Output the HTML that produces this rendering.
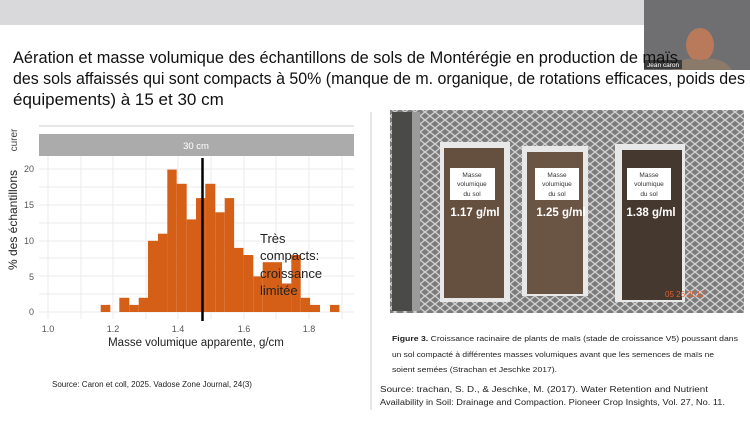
<!DOCTYPE html>
<html><head><meta charset="utf-8"><style>
html,body{margin:0;padding:0;background:#fff;}
svg{display:block;font-family:"Liberation Sans",sans-serif;}
</style></head><body>
<svg width="750" height="421" viewBox="0 0 750 421">
<defs>
<pattern id="mesh" width="10" height="8" patternUnits="userSpaceOnUse">
<rect width="10" height="8" fill="#7c7c7c"/>
<path d="M0 4 L5 0 L10 4 L5 8 Z" fill="none" stroke="#d0d0d0" stroke-width="1.4"/>
</pattern>
</defs>
<rect x="0" y="0" width="750" height="421" fill="#fff"/>
<rect x="0" y="0" width="750" height="25" fill="#d9d9db"/>
<!-- webcam -->
<rect x="644" y="0" width="106" height="70" fill="#6f6e70"/>
<ellipse cx="700" cy="45" rx="14" ry="17" fill="#b87a5a"/>
<path d="M672 70 Q680 55 700 60 Q722 55 732 70 Z" fill="#8a7a6a"/>
<rect x="644" y="60" width="38" height="9" fill="#3a3a3a"/>
<text x="647" y="67" font-size="6.5" fill="#fff">Jean caron</text>
<!-- title -->
<g font-size="17" fill="#111">
<text x="13" y="63" textLength="665" lengthAdjust="spacingAndGlyphs">Aération et masse volumique des échantillons de sols de Montérégie en production de maïs</text>
<text x="13" y="84" textLength="732" lengthAdjust="spacingAndGlyphs">des sols affaissés qui sont compacts à 50% (manque de m. organique, de rotations efficaces, poids des</text>
<text x="13" y="105">équipements) à 15 et 30 cm</text>
</g>
<!-- chart -->
<line x1="39" y1="126" x2="354" y2="126" stroke="#ccc"/>
<rect x="39" y="134" width="315" height="22" fill="#ababab"/>
<text x="196" y="149" font-size="9.5" fill="#fff" text-anchor="middle">30 cm</text>
<rect x="39" y="156" width="315" height="163" fill="#fff"/>
<g stroke="#ebebeb" stroke-width="1">
<line x1="48" y1="156" x2="48" y2="319"/><line x1="113" y1="156" x2="113" y2="319"/><line x1="178" y1="156" x2="178" y2="319"/><line x1="244" y1="156" x2="244" y2="319"/><line x1="309" y1="156" x2="309" y2="319"/>
<line x1="81" y1="156" x2="81" y2="319"/><line x1="146" y1="156" x2="146" y2="319"/><line x1="211" y1="156" x2="211" y2="319"/><line x1="276" y1="156" x2="276" y2="319"/><line x1="342" y1="156" x2="342" y2="319"/>
<line x1="39" y1="312" x2="354" y2="312"/><line x1="39" y1="276" x2="354" y2="276"/><line x1="39" y1="241" x2="354" y2="241"/><line x1="39" y1="205" x2="354" y2="205"/><line x1="39" y1="169" x2="354" y2="169"/>
<line x1="39" y1="294" x2="354" y2="294"/><line x1="39" y1="258" x2="354" y2="258"/><line x1="39" y1="223" x2="354" y2="223"/><line x1="39" y1="187" x2="354" y2="187"/>
</g>
<g fill="#d65f18">
<rect x="100.7" y="304.9" width="9.6" height="7.1"/>
<rect x="119.3" y="297.8" width="10" height="14.2"/>
<rect x="129.3" y="304.9" width="9.4" height="7.1"/>
<rect x="138.7" y="297.8" width="9.4" height="14.2"/>
<rect x="148" y="240.8" width="10" height="71.2"/>
<rect x="158" y="233.7" width="9.4" height="78.3"/>
<rect x="167.3" y="169.6" width="9.4" height="142.4"/>
<rect x="176.7" y="183.8" width="10" height="128.2"/>
<rect x="186.7" y="219.4" width="9.4" height="92.6"/>
<rect x="196" y="198.1" width="9.4" height="113.9"/>
<rect x="205.3" y="183.8" width="10" height="128.2"/>
<rect x="215.3" y="212.3" width="9.4" height="99.7"/>
<rect x="224.7" y="198.1" width="9.4" height="113.9"/>
<rect x="234" y="247.9" width="9.4" height="64.1"/>
<rect x="243.3" y="255" width="10" height="57"/>
<rect x="253.3" y="276.4" width="9.4" height="35.6"/>
<rect x="262.7" y="262.2" width="9.4" height="49.8"/>
<rect x="272" y="262.2" width="10" height="49.8"/>
<rect x="282" y="283.5" width="9.4" height="28.5"/>
<rect x="291.3" y="255" width="9.4" height="57"/>
<rect x="300.7" y="297.8" width="9.4" height="14.2"/>
<rect x="310" y="304.9" width="10" height="7.1"/>
<rect x="330" y="304.9" width="9.4" height="7.1"/>
</g>
<line x1="202.5" y1="158" x2="202.5" y2="321" stroke="#000" stroke-width="2.5"/>
<g font-size="9" fill="#555" text-anchor="end">
<text x="34" y="315">0</text><text x="34" y="280">5</text><text x="34" y="244">10</text><text x="34" y="208">15</text><text x="34" y="172">20</text>
</g>
<g font-size="9" fill="#555" text-anchor="middle">
<text x="48" y="332">1.0</text><text x="113" y="332">1.2</text><text x="178" y="332">1.4</text><text x="244" y="332">1.6</text><text x="309" y="332">1.8</text>
</g>
<text x="196" y="346" font-size="11.5" fill="#222" text-anchor="middle">Masse volumique apparente, g/cm</text>
<text transform="translate(17,220) rotate(-90)" font-size="12" fill="#222" text-anchor="middle">% des échantillons</text>
<text transform="translate(17,140) rotate(-90)" font-size="10" fill="#444" text-anchor="middle">curer</text>
<g font-size="13" fill="#222">
<text x="260" y="243">Très</text><text x="260" y="260">compacts:</text><text x="260" y="278">croissance</text><text x="260" y="295">limitée</text>
</g>
<text x="52" y="387" font-size="8" fill="#222">Source: Caron et coll, 2025. Vadose Zone Journal, 24(3)</text>
<line x1="371" y1="112" x2="371" y2="410" stroke="#ccc"/>
<!-- photo -->
<rect x="390" y="110" width="354" height="203" fill="url(#mesh)"/>
<rect x="392" y="112" width="20" height="199" fill="#4a4a48"/>
<rect x="412" y="112" width="8" height="199" fill="#9a9a98"/>
<g fill="#e8e8e8"><rect x="440" y="142" width="70" height="160"/><rect x="522" y="146" width="66" height="150"/><rect x="615" y="144" width="70" height="158"/></g>
<rect x="444" y="148" width="60" height="150" fill="#65503f"/>
<rect x="527" y="152" width="56" height="142" fill="#6a5444"/>
<rect x="622" y="150" width="60" height="150" fill="#45382f"/>
<g fill="#fff"><rect x="450" y="168" width="45" height="32"/><rect x="535" y="168" width="44" height="32"/><rect x="627" y="168" width="44" height="32"/></g>
<g font-size="6.5" fill="#333" text-anchor="middle">
<text x="472" y="177">Masse</text><text x="472" y="186">volumique</text><text x="472" y="196">du sol</text>
<text x="557" y="177">Masse</text><text x="557" y="186">volumique</text><text x="557" y="196">du sol</text>
<text x="649" y="177">Masse</text><text x="649" y="186">volumique</text><text x="649" y="196">du sol</text>
</g>
<g font-size="11.5" font-weight="bold" fill="#fff" text-anchor="middle">
<text x="475" y="216">1.17 g/ml</text><text x="561" y="216">1.25 g/ml</text><text x="651" y="216">1.38 g/ml</text>
</g>
<text x="665" y="297" font-size="8" fill="#e06030">05 26 2017</text>
<g font-size="7.5" fill="#222">
<text x="392" y="341" textLength="346" lengthAdjust="spacingAndGlyphs"><tspan font-weight="bold">Figure 3.</tspan> Croissance racinaire de plants de maïs (stade de croissance V5) poussant dans</text>
<text x="392" y="357" textLength="322" lengthAdjust="spacingAndGlyphs">un sol compacté à différentes masses volumiques avant que les semences de maïs ne</text>
<text x="392" y="372" textLength="165" lengthAdjust="spacingAndGlyphs">soient semées (Strachan et Jeschke 2017).</text>
</g>
<g font-size="7.8" fill="#222">
<text x="380" y="392" textLength="328" lengthAdjust="spacingAndGlyphs">Source: trachan, S. D., &amp; Jeschke, M. (2017). Water Retention and Nutrient</text>
<text x="380" y="405" textLength="345" lengthAdjust="spacingAndGlyphs">Availability in Soil: Drainage and Compaction. Pioneer Crop Insights, Vol. 27, No. 11.</text>
</g>
</svg>
</body></html>
